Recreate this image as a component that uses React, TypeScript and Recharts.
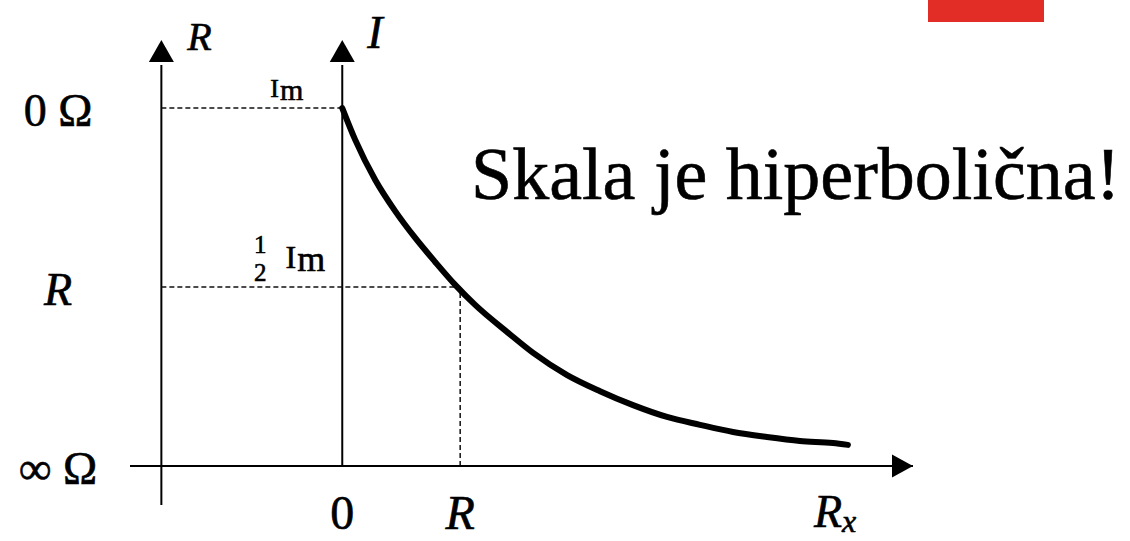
import { ComposedChart, Line, XAxis, YAxis, ReferenceLine, ReferenceDot } from 'recharts';

// curve: Rx in units of R, I in units of Im
const rxValues = [0, 0.11, 0.28, 0.449, 0.619, 0.788, 0.958, 1.127, 1.407, 1.619, 1.907, 2.186, 2.466, 2.754, 3.034, 3.314, 3.602, 3.881, 4.161, 4.288];
const iValues = [1.0, 0.911, 0.799, 0.712, 0.637, 0.57, 0.506, 0.45, 0.372, 0.316, 0.254, 0.209, 0.17, 0.137, 0.115, 0.095, 0.081, 0.07, 0.064, 0.059];

// x axis (Rx) ticks and labels
const xTicks = [0, 1, 4.18];
const xTickLabels = ['0', 'R', 'Rx'];

// left resistance scale, placed at the I levels
const yTicks = [0, 0.5, 1];
const yTickLabels = ['∞ Ω', 'R', '0 Ω'];

// where the ohm scale axis stands (in Rx units)
const rAxisAt = -1.534;

const data = rxValues.map((rx, i) => ({ rx, i: iValues[i] }));

const SERIF = "'Liberation Serif', serif";
// scanned labels look a bit heavier than plain type
const ink = { fill: '#000', stroke: '#000', strokeWidth: 0.6 };

const XTick = (props: any) => {
    const { x, y, payload } = props;
    const idx = xTicks.indexOf(payload.value);
    const lbl = xTickLabels[idx];
    if (lbl === 'Rx') {
        return (
            <text x={x} y={y + 61} textAnchor="middle" fontFamily={SERIF} fontSize={46} fontStyle="italic" {...ink}>
                R<tspan fontSize={32} dy={5}>x</tspan>
            </text>
        );
    }
    return (
        <text x={x} y={y + 63} textAnchor="middle" fontFamily={SERIF} fontSize={48}
            fontStyle={lbl === 'R' ? 'italic' : 'normal'} {...ink}>
            {lbl}
        </text>
    );
};

const YTick = (props: any) => {
    const { x, y, payload } = props;
    const idx = yTicks.indexOf(payload.value);
    const lbl = yTickLabels[idx];
    return (
        <text x={x - 72} y={y + 18} textAnchor="middle" fontFamily={SERIF} fontSize={46}
            fontStyle={lbl === 'R' ? 'italic' : 'normal'} {...ink}>
            {lbl === 'R' ? lbl : lbl.replace(' ', '\u00a0')}
        </text>
    );
};

const upArrow = (label: string, size: number, dx: number, dy: number) => (props: any) => {
    const { cx, cy } = props;
    return (
        <g>
            <polygon points={`${cx},${cy} ${cx - 12.5},${cy + 22} ${cx + 12.5},${cy + 22}`} fill="#000" />
            <text x={cx + dx} y={cy + dy} fontFamily={SERIF} fontSize={size} fontStyle="italic" {...ink}>{label}</text>
        </g>
    );
};

const rightArrow = (props: any) => {
    const { cx, cy } = props;
    return <polygon points={`${cx},${cy} ${cx - 21},${cy - 11.5} ${cx - 21},${cy + 11.5}`} fill="#000" />;
};

const imLabel = (props: any) => {
    const { cx, cy } = props;
    return (
        <text x={cx - 39} y={cy - 11} textAnchor="end" fontFamily={SERIF} {...ink}>
            <tspan fontSize={26}>I</tspan>
            <tspan fontSize={30} dx={1} dy={3}>m</tspan>
        </text>
    );
};

const halfImLabel = (props: any) => {
    const { cx, cy } = props;
    return (
        <g fontFamily={SERIF} {...ink}>
            <text textAnchor="middle" fontSize={25}>
                <tspan x={cx - 82} y={cy - 34}>1</tspan>
                <tspan x={cx - 82} y={cy - 6}>2</tspan>
            </text>
            <text x={cx - 17} y={cy - 19} textAnchor="end">
                <tspan fontSize={32}>I</tspan>
                <tspan fontSize={36} dx={1} dy={3}>m</tspan>
            </text>
        </g>
    );
};

const dotted = { stroke: '#111', strokeWidth: 1.5, strokeDasharray: '5 3' };

export default function App() {
    return (
        <div style={{ position: 'absolute', left: 0, top: 0, width: 1130, height: 541, background: '#fff', overflow: 'hidden' }}>
            <div style={{ position: 'absolute', left: 928, top: 0, width: 116, height: 22, background: '#e12d26' }} />
            <div style={{ position: 'absolute', left: 471, top: 137, fontFamily: SERIF, fontSize: 74, lineHeight: '74px', color: '#000', whiteSpace: 'nowrap', WebkitTextStroke: '0.6px #000' }}>
                Skala je hiperbolična!
            </div>
            <ComposedChart width={1130} height={541} data={data} margin={{ top: 40, right: 217, bottom: 0, left: 0 }}>
                <XAxis
                    dataKey="rx"
                    type="number"
                    domain={[-1.8, 4.84]}
                    allowDataOverflow
                    ticks={xTicks}
                    tick={<XTick />}
                    tickLine={false}
                    tickSize={0}
                    tickMargin={0}
                    height={75}
                    axisLine={{ stroke: '#000', strokeWidth: 2 }}
                />
                <YAxis
                    type="number"
                    domain={[0, 1.19]}
                    allowDataOverflow
                    ticks={yTicks}
                    tick={<YTick />}
                    tickLine={false}
                    tickSize={0}
                    tickMargin={0}
                    axisLine={false}
                    width={130}
                />
                {/* ohm scale axis and current axis */}
                <ReferenceLine segment={[{ x: rAxisAt, y: -0.109 }, { x: rAxisAt, y: 1.12 }]} stroke="#000" strokeWidth={2} ifOverflow="visible" />
                <ReferenceLine segment={[{ x: 0, y: 0 }, { x: 0, y: 1.12 }]} stroke="#000" strokeWidth={2} ifOverflow="visible" />
                {/* helper lines */}
                <ReferenceLine segment={[{ x: rAxisAt, y: 1 }, { x: 0, y: 1 }]} {...dotted} ifOverflow="visible" />
                <ReferenceLine segment={[{ x: rAxisAt, y: 0.5 }, { x: 1, y: 0.5 }]} {...dotted} ifOverflow="visible" />
                <ReferenceLine segment={[{ x: 1, y: 0 }, { x: 1, y: 0.5 }]} {...dotted} ifOverflow="visible" />
                <Line
                    type="monotone"
                    dataKey="i"
                    stroke="#000"
                    strokeWidth={6}
                    strokeLinecap="round"
                    strokeLinejoin="round"
                    dot={false}
                    activeDot={false}
                    isAnimationActive={false}
                />
                <ReferenceDot x={rAxisAt} y={1.19} ifOverflow="visible" shape={upArrow('R', 40, 26, 10)} />
                <ReferenceDot x={0} y={1.19} ifOverflow="visible" shape={upArrow('I', 46, 25, 8)} />
                <ReferenceDot x={4.84} y={0} ifOverflow="visible" shape={rightArrow} />
                <ReferenceDot x={0} y={1} ifOverflow="visible" shape={imLabel} />
                <ReferenceDot x={0} y={0.5} ifOverflow="visible" shape={halfImLabel} />
            </ComposedChart>
        </div>
    );
}
